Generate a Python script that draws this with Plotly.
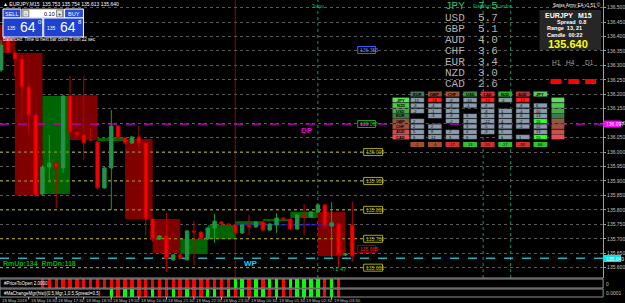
import plotly.graph_objects as go

W, H = 625, 303

# ---------------- data ----------------
bar_index = list(range(52))  # M15 bars, 18 May 15:30 ... 19 May 04:15
opens  = [136.284,136.395,136.343,136.322,136.225,136.128,135.855,135.948,135.962,135.945,
          136.194,136.069,136.059,136.045,136.035,135.876,135.945,136.090,136.049,136.031,
          136.052,136.031,135.768,135.699,135.710,135.627,135.644,135.627,135.727,135.723,
          135.699,135.737,135.758,135.751,135.748,135.720,135.748,135.741,135.758,135.730,
          135.748,135.772,135.768,135.734,135.782,135.775,135.793,135.817,135.744,135.751,
          135.644,135.748]
highs  = [136.388,136.422,136.353,136.336,136.239,136.135,135.955,136.059,135.965,136.197,
          136.263,136.072,136.263,136.083,136.038,135.948,136.146,136.093,136.052,136.055,
          136.090,136.035,135.771,135.713,135.789,135.647,135.647,135.730,135.761,135.727,
          135.740,135.786,135.761,135.754,135.751,135.751,135.782,135.761,135.761,135.754,
          135.789,135.775,135.772,135.786,135.820,135.796,135.820,135.820,135.827,135.755,
          135.650,135.827]
lows   = [136.277,136.343,136.260,136.111,136.059,135.845,135.848,135.893,135.806,135.928,
          136.065,136.049,135.973,136.038,135.870,135.873,135.800,136.045,136.028,136.028,
          136.007,135.710,135.689,135.696,135.585,135.624,135.630,135.624,135.609,135.696,
          135.696,135.685,135.747,135.744,135.717,135.717,135.713,135.738,135.727,135.727,
          135.720,135.765,135.730,135.730,135.713,135.772,135.789,135.740,135.637,135.599,
          135.640,135.620]
closes = [136.370,136.346,136.322,136.225,136.128,135.851,135.948,135.962,135.945,136.194,
          136.069,136.059,136.031,136.042,135.876,135.945,136.090,136.049,136.031,136.052,
          136.031,135.768,135.699,135.710,135.630,135.644,135.633,135.727,135.723,135.699,
          135.737,135.761,135.751,135.748,135.720,135.748,135.741,135.758,135.730,135.751,
          135.772,135.768,135.734,135.782,135.775,135.793,135.817,135.744,135.755,135.644,
          135.648,135.640]

# H1 candle boxes (start bar, open, close)
h1_start = [-2, 2, 6, 10, 14, 18, 22, 26, 30, 34, 38, 42, 46]
h1_open  = [136.440,136.343,135.855,136.197,136.038,136.045,135.768,135.647,135.699,135.748,135.761,135.772,135.793]
h1_close = [136.343,135.851,136.194,136.042,136.049,135.768,135.651,135.699,135.748,135.761,135.768,135.793,135.640]

# indicator panes (1 = up/green, -1 = down/red, 0 = none)
pane1 = [0,0,0,0,0,0,-1,-1,-1,-1,-1,-1,-1,-1,-1,-1,-1,-1,-1,-1,-1,-1,-1,-1,-1,-1,-1,-1,-1,-1,
         -1,-1,-1,-1,1,1,-1,1,-1,1,1,-1,1,1,1,1,1,-1,1,-1,0,0]
pane2 = [0,0,0,0,0,0,0,0,0,0,0,0,0,0,0,0,1,-1,1,1,-1,-1,1,-1,-1,1,-1,1,-1,-1,
         1,1,-1,1,-1,1,-1,1,1,-1,1,-1,-1,1,1,1,1,-1,1,-1,0,0]

price_ticks = [135.55, 135.60, 135.65, 135.70, 135.75, 135.80, 135.85, 135.90, 135.95, 136.00,
               136.05, 136.10, 136.15, 136.20, 136.25, 136.30, 136.35, 136.40, 136.45, 136.50]
round_levels = [136.000, 135.900, 135.800, 135.700, 135.600]
dp_level = 136.097
wp_level = 135.633
blue_level = 135.748
blue_tag = 136.353
red_tag = 135.665
time_tick_bars = [4, 8, 12, 16, 20, 24, 28, 32, 36, 40, 44, 48]
time_tick_text = ["18 May 16:30", "18 May 17:30", "18 May 18:30", "18 May 19:30", "18 May 20:30",
                  "18 May 21:30", "18 May 22:30", "18 May 23:30", "19 May 00:30", "19 May 01:30",
                  "19 May 02:30", "19 May 03:30"]
session_bars = [46, 70, 74]
session_names = ["Tokyo", "Frankfurt", "London"]
day_sep_bar = 34

strength_ccy = ["JPY", "USD", "GBP", "AUD", "CHF", "EUR", "NZD", "CAD"]
strength_val = ["7.5", "5.7", "5.1", "4.0", "3.6", "3.4", "3.0", "2.6"]

mx_cols = ["EUR", "GBP", "CHF", "USD", "CAD", "NZD", "AUD", "JPY"]
mx_rows = ["JPY", "NZD", "USD", "EUR", "GBP", "CHF", "AUD", "CAD"]
mx_vals = [
    ["-13", "-3", "-2", "", "2", "2", "5", "9"],
    ["-18", "-4", "-1", "-3", "", "2", "8", "12"],
    ["-9", "-3", "-2", "-3", "-2", "", "2", "3"],
    ["-10", "-1", "", "3", "3", "3", "4", "9"],
    ["-15", "-9", "-8", "-5", "-12", "-5", "-3", ""],
    ["-4", "", "1", "3", "4", "4", "5", "6"],
    ["-17", "-6", "-4", "-6", "-2", "-2", "", "1"],
    ["", "6", "10", "13", "19", "12", "13", "15"],
]
mx_totals = ["-1", "-4", "-17", "13", "-55", "17", "-38", "88"]

# ---------------- geometry helpers ----------------
X0_BAR, PX_BAR = 1.14, 6.93
PLOT_R = 607
MAIN_B = 278
x_lo = (0 - X0_BAR) / PX_BAR
x_hi = (PLOT_R - X0_BAR) / PX_BAR
P_REF, Y_REF, P_PX = 135.630, 259, 0.00346
y_hi = P_REF + (Y_REF - 0) * P_PX
y_lo = P_REF + (Y_REF - MAIN_B) * P_PX


def fx(px):
    return px / W


def fy(py):
    return 1 - py / H


def bx(px):
    return (px - X0_BAR) / PX_BAR


def pyp(price):
    return Y_REF - (price - P_REF) / P_PX


shapes = []
annots = []


def rect(x0, y0, x1, y1, fill=None, line=None, lw=1, layer="above"):
    shapes.append(dict(type="rect", xref="paper", yref="paper", x0=fx(x0), x1=fx(x1), y0=fy(y1), y1=fy(y0),
                       fillcolor=fill or "rgba(0,0,0,0)", line=dict(color=line or "rgba(0,0,0,0)", width=lw if line else 0),
                       layer=layer))


def text(x, y, t, size=6, color="#ffffff", anchor="left", bold=False, family="Liberation Sans"):
    if bold:
        t = "<b>" + t + "</b>"
    annots.append(dict(x=fx(x), y=fy(y), xref="paper", yref="paper", text=t, showarrow=False,
                       xanchor=anchor, yanchor="middle", borderpad=0,
                       font=dict(size=size, color=color, family=family)))


fig = go.Figure()

# H1 boxes
for s, o, c in zip(h1_start, h1_open, h1_close):
    col = "#006400" if c >= o else "#800000"
    shapes.append(dict(type="rect", xref="x", yref="y", x0=s, x1=s + 4, y0=min(o, c), y1=max(o, c),
                       fillcolor=col, line=dict(width=0), layer="between"))

# round-number lines
for lv in round_levels:
    shapes.append(dict(type="line", xref="x", yref="y", x0=x_lo, x1=bx(366), y0=lv, y1=lv,
                       line=dict(color="#a8a800", width=1, dash="dot"), layer="between"))
    text(367, pyp(lv), "%.3f" % lv, size=5, color="#c8c800")
    rect(366, pyp(lv) - 3.5, 385, pyp(lv) + 3.5, line="#a8a800")

# pivots
shapes.append(dict(type="line", xref="x", yref="y", x0=x_lo, x1=x_hi, y0=dp_level, y1=dp_level,
                   line=dict(color="#c000c0", width=1.3, dash="dash"), layer="between"))
shapes.append(dict(type="line", xref="x", yref="y", x0=x_lo, x1=x_hi, y0=wp_level, y1=wp_level,
                   line=dict(color="#20b0c0", width=1.5, dash="dash"), layer="between"))
shapes.append(dict(type="line", xref="x", yref="y", x0=day_sep_bar, x1=48.6, y0=blue_level, y1=blue_level,
                   line=dict(color="#2020ff", width=1), layer="between"))
# tags inside chart
rect(360, pyp(dp_level) - 3.5, 378, pyp(dp_level) + 3.5, line="#20a020")
text(361, pyp(dp_level), "%.3f" % dp_level, size=5, color="#20c020")
rect(360, pyp(blue_tag) - 3.5, 378, pyp(blue_tag) + 3.5, line="#4060ff")
text(361, pyp(blue_tag), "%.3f" % blue_tag, size=5, color="#6080ff")
rect(360, pyp(red_tag) - 3.5, 378, pyp(red_tag) + 3.5, line="#a00000")
text(361, pyp(red_tag), "%.3f" % red_tag, size=5, color="#ff2020")

# vertical lines
shapes.append(dict(type="line", xref="x", yref="paper", x0=day_sep_bar, x1=day_sep_bar, y0=fy(297), y1=1,
                   line=dict(color="#a00000", width=1), layer="between"))
for b, nm in zip(session_bars, session_names):
    shapes.append(dict(type="line", xref="x", yref="paper", x0=b, x1=b, y0=fy(MAIN_B), y1=1,
                       line=dict(color="#00a060", width=1, dash="dot"), layer="between"))

fig.add_trace(go.Candlestick(
    x=bar_index, open=opens, high=highs, low=lows, close=closes,
    increasing=dict(line=dict(color="#10a030", width=1), fillcolor="#2e8b57"),
    decreasing=dict(line=dict(color="#c00000", width=1), fillcolor="#ff0000"),
    whiskerwidth=0, showlegend=False, xaxis="x", yaxis="y"))

# indicator panes
for vals, ax in ((pane1, "2"), (pane2, "3")):
    xs = [i for i, v in enumerate(vals) if v != 0]
    cs = ["#00ff00" if vals[i] > 0 else "#ff0000" for i in xs]
    fig.add_trace(go.Bar(x=xs, y=[1] * len(xs), marker=dict(color=cs, line=dict(width=0)), width=0.5,
                         showlegend=False, xaxis="x" + ax, yaxis="y" + ax))

# pane frames
rect(0, 279, PLOT_R, 288, line="#909090")
rect(0, 289, PLOT_R, 297, line="#909090")
text(3, 283.5, "#PriceToOpen 2.0000", size=4.5, color="#ffffff")
text(3, 293, "#MaChangeMgr(hist)(0.5,Mgr,1,0.5,Spread=0.5)", size=4.5, color="#ffffff")
text(609, 283.5, "0", size=5, color="#c0c0c0")
text(609, 293, "0.0001", size=5, color="#c0c0c0")

# time axis labels
text(1, 300.5, "18 May 2018", size=4.3, color="#c0c0c0")
for b, t in zip(time_tick_bars, time_tick_text):
    annots.append(dict(x=b, y=fy(300.5), xref="x", yref="paper", text=t, showarrow=False, xanchor="left",
                       yanchor="middle", font=dict(size=4.3, color="#c0c0c0", family="Liberation Sans Narrow, Liberation Sans")))
    shapes.append(dict(type="line", xref="x", yref="paper", x0=b, x1=b, y0=fy(297), y1=fy(299.5),
                       line=dict(color="#c0c0c0", width=1)))

# axis value tags
rect(607, 120.5, 625, 127.5, fill="#ff00ff")
text(609, 124, "%.3f" % dp_level, size=5, color="#ffffff")
rect(607, 255, 625, 262, fill="#00e8e8")
text(609, 258.5, "135.640", size=5, color="#ffffff")

# top-left trade panel
text(2, 4, "▲ EURJPY,M15  135.753 135.754 135.613 135.640", size=5, color="#ffffff")
rect(3, 9, 21, 18, fill="#2a4ad8", line="#ffffff")
text(12, 13.5, "SELL", size=5.5, color="#ffffff", anchor="center")
rect(22, 9, 64, 18, fill="#ffffff", line="#a0a0a0")
rect(23, 10, 29, 17, fill="#e0e0e0", line="#808080")
text(26, 13.5, "-", size=5, color="#000000", anchor="center")
rect(57, 10, 63, 17, fill="#e0e0e0", line="#808080")
text(60, 13.5, "+", size=5, color="#000000", anchor="center")
text(50, 13.5, "0.10", size=5.5, color="#000000", anchor="center")
rect(65, 9, 84, 18, fill="#2a4ad8", line="#ffffff")
text(74.5, 13.5, "BUY", size=5.5, color="#ffffff", anchor="center")
rect(3, 18, 43, 37, fill="#2040d0", line="#ffffff")
rect(44, 18, 84, 37, fill="#2040d0", line="#ffffff")
text(17, 28, "135", size=5, color="#ffffff", anchor="right")
text(19, 27, "64", size=14, color="#ffffff")
text(37, 22, "0", size=6, color="#ffffff")
text(57, 28, "135", size=5, color="#ffffff", anchor="right")
text(59, 27, "64", size=14, color="#ffffff")
text(77, 22, "8", size=6, color="#ffffff")
text(2, 39.5, "Balanced: Time to next bar close 0 min 22 sec", size=4.5, color="#ffffff")

# session labels
text(320, 6, "Tokyo", size=4.5, color="#00c060", anchor="center")
text(486, 6, "Frankfurt", size=4.5, color="#00c060", anchor="center")
text(508, 6, "London", size=4.5, color="#00c060", anchor="center")

# currency strength list
for k, (c, v) in enumerate(zip(strength_ccy, strength_val)):
    col = "#30c070" if k == 0 else "#b0b0b0"
    yy = 6.5 + 11.1 * k
    text(447, yy, c, size=11, color=col, family="Liberation Mono")
    text(480, yy, v, size=11, color=col, family="Liberation Mono")

# top-right info panel
text(606, 5, "Swiss Army EA v1.51 ©", size=4.5, color="#ffffff", anchor="right")
rect(543, 10, 605, 50, fill="#262626")
text(548, 16, "EURJPY", size=7, color="#ffffff", bold=True)
text(597, 16, "M15", size=7, color="#ffffff", bold=True, anchor="right")
text(575, 22.5, "Spread  0.8", size=5.5, color="#ffffff", bold=True, anchor="center")
text(568, 28.5, "Range  13, 21", size=5.5, color="#ffffff", bold=True, anchor="center")
text(568, 34.5, "Candle  00:22", size=5.5, color="#ffffff", bold=True, anchor="center")
text(572, 43.5, "135.640", size=11, color="#ffff00", bold=True, anchor="center")
for lab, xx in zip(["H1", "H4", "D1"], [555, 569, 588]):
    text(xx, 62, lab, size=6.5, color="#a0a0a0")
for xx in [554, 572, 589]:
    rect(xx, 79, xx + 11, 84, fill="#ff0000")

# currency matrix
hdr_col = ["#4a7058", "#8b4a2b", "#a0522d", "#3c8c3c", "#d03030", "#30b030", "#b03838", "#60c860"]
row_col = ["#60dc60", "#50c850", "#46aa46", "#3c7850", "#8c5a3c", "#a0503c", "#c85050", "#e05050"]
row_y = [100, 105.5, 111, 116, 121, 126.5, 132, 137]
col_x = [413, 430.7, 448.4, 466.1, 483.8, 501.5, 519.2, 536.9]
for r, (nm, cc, yy) in enumerate(zip(mx_rows, row_col, row_y)):
    rect(395, yy - 2.4, 412, yy + 2.4, fill=cc)
    text(403.5, yy, nm, size=4, color="#000000", anchor="center", bold=True)
    rect(555, yy - 2.4, 568, yy + 2.4, fill=cc)
for c, (nm, hc, xx) in enumerate(zip(mx_cols, hdr_col, col_x)):
    rect(xx, 91.5, xx + 14, 96.5, fill=hc)
    text(xx + 7, 94, nm, size=4, color="#000000", anchor="center", bold=True)
    for r, yy in enumerate(row_y):
        v = mx_vals[c][r]
        if v == "":
            continue
        fill = "#8c9cac"
        try:
            iv = int(v)
            if iv <= -15:
                fill = "#ff2020"
            elif iv >= 15:
                fill = "#30ff30"
        except ValueError:
            pass
        rect(xx, yy - 2.4, xx + 14, yy + 2.4, fill=fill, line="#000000", lw=0.5)
        text(xx + 2, yy, v, size=4, color="#000000")
    tv = int(mx_totals[c])
    tfill = "#30c030" if tv > 0 else ("#d03030" if tv < -10 else "#a05030")
    rect(xx, 142, xx + 14, 147, fill=tfill)
    text(xx + 7, 144.5, mx_totals[c], size=4, color="#000000", anchor="center")

# misc labels
text(2, 263.5, "RmUp:134  RmDn:118", size=7, color="#00b000", bold=True)
text(245, 263.5, "WP", size=8, color="#00d8ff", bold=True)
text(302, 130, "DP", size=8, color="#e000e0", bold=True)
text(333, 268.5, "↑1:47", size=6, color="#00c060")

fig.update_layout(
    width=W, height=H, margin=dict(l=0, r=0, t=0, b=0),
    paper_bgcolor="#000000", plot_bgcolor="#000000",
    showlegend=False, bargap=0,
    annotations=annots,
    xaxis=dict(domain=[0, PLOT_R / W], range=[x_lo, x_hi], showticklabels=False, showgrid=False,
               zeroline=False, rangeslider=dict(visible=False), anchor="y"),
    yaxis=dict(domain=[1 - MAIN_B / H, 1], range=[y_lo, y_hi], side="right", tickvals=price_ticks,
               ticktext=["%.3f" % t for t in price_ticks], tickfont=dict(size=5, color="#c0c0c0", family="Liberation Sans"),
               showgrid=True, gridcolor="#5a5a5a", griddash="dot", gridwidth=1, zeroline=False,
               showline=True, linecolor="#a0a0a0", ticks="outside", ticklen=2, tickcolor="#a0a0a0",
               anchor="x"),
    xaxis2=dict(domain=[0, PLOT_R / W], range=[x_lo, x_hi], visible=False, anchor="y2"),
    yaxis2=dict(domain=[1 - 288 / H, 1 - 279 / H], range=[0, 1], visible=False, anchor="x2"),
    xaxis3=dict(domain=[0, PLOT_R / W], range=[x_lo, x_hi], visible=False, anchor="y3"),
    yaxis3=dict(domain=[1 - 297 / H, 1 - 289 / H], range=[0, 1], visible=False, anchor="x3"),
)
shapes.append(dict(type="line", xref="paper", yref="paper", x0=0, x1=fx(PLOT_R), y0=fy(MAIN_B), y1=fy(MAIN_B),
                   line=dict(color="#909090", width=1)))
fig.update_layout(shapes=shapes)

fig.write_html("out.html")
